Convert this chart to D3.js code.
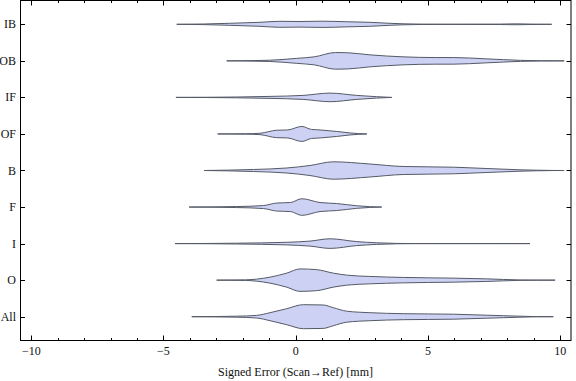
<!DOCTYPE html>
<html>
<head>
<meta charset="utf-8">
<script src="https://cdn.jsdelivr.net/npm/d3@7"></script>
<style>
  body { margin: 0; background: #fff; }
  svg text { font-family: "Liberation Serif", "DejaVu Serif", serif; font-size: 12px; fill: #111; }
</style>
</head>
<body>
<svg id="chart" width="576" height="381"></svg>
<script>
// Categories, bottom to top
const categories = ["All", "O", "I", "F", "B", "OF", "IF", "OB", "IB"];

// Estimated density profiles [signed error, density]
const densAll = [[-3.93,0],[-2.23,0.5],[-1.48,1.3],[-0.97,4],[-0.34,8],[0.29,12],[1.04,11.7],[1.42,9],[1.93,5.5],[2.8,4],[4.07,3],[5.96,2.5],[7.22,1.5],[7.85,1],[8.48,0.5],[9.1,0.1],[9.74,0]];
const densO   = [[-2.99,0],[-1.9,0.3],[-1.48,1],[-0.97,3],[-0.34,7],[0.16,11.2],[0.79,10.5],[1.42,7],[1.93,5],[2.8,3.7],[4.07,2.7],[5.96,2],[7.22,1.3],[7.85,0.7],[8.48,0.2],[9.1,0.05],[9.81,0]];
const densI   = [[-4.56,0],[-2.23,0.4],[-0.34,1.3],[0.54,2.5],[1.3,4.8],[2.3,2],[3.06,0.8],[3.8,0.2],[4.5,0.02],[8.86,0]];
const densF   = [[-4.03,0],[-2.23,0.5],[-1.22,1.5],[-0.72,4],[-0.2,4.5],[0.23,8.3],[0.92,4.5],[1.55,3.5],[2.3,1.3],[2.8,0.4],[3.25,0]];
const densB   = [[-3.46,0],[-1.6,1],[-0.34,2.5],[0.54,5],[1.42,8.7],[2.8,6.5],[4.06,4],[5.96,3.3],[7.2,2],[8.48,0.7],[9.1,0.3],[9.7,0.05],[10.15,0]];
const densOF  = [[-2.95,0],[-1.9,0.2],[-1.35,0.7],[-0.72,3.7],[-0.3,4],[0.23,7.5],[0.6,4.5],[0.92,4],[1.55,2.5],[2.05,1],[2.69,0]];
const densIF  = [[-4.53,0],[-2.23,0.4],[-0.97,1],[0.28,2],[1.3,4.3],[2.3,2],[3.06,0.7],[3.63,0]];
const densOB  = [[-2.61,0],[-1.0,0.6],[0.04,2.5],[0.7,4],[1.5,8.3],[1.95,8.1],[2.8,6],[4.06,4],[5.3,3.3],[5.96,3.3],[7.2,2],[7.86,1.2],[8.5,0.5],[9.3,0.1],[10.15,0]];
const densIB  = [[-4.5,0],[-3.5,0.3],[-2.5,1],[-1.35,2],[-0.6,3],[0.16,2.8],[1.03,3.1],[1.86,2.6],[2.8,2],[3.56,1],[4.06,0.5],[4.7,0.2],[5.8,0.1],[7.7,0.2],[8.3,0.45],[8.9,0.2],[9.68,0]];

const profiles = [densAll, densO, densI, densF, densB, densOF, densIF, densOB, densIB];

const xTicks = [-10, -5, 0, 5, 10];
const xMinor = d3.range(-10, 11, 1).filter(v => v % 5 !== 0);

const svg = d3.select("#chart");
const x = d3.scaleLinear().domain([-10.4, 10.41]).range([20.7, 571]);
const y = d3.scaleLinear().domain([0.335, 9.665]).range([341, 0]);
// density -> half width in category units
const w = d3.scaleLinear().domain([0, 10]).range([0, 10 / 36.5]);

// violins
const plot = svg.append("g");
profiles.forEach((prof, i) => {
  const c = i + 1;
  const area = d3.area()
    .x(d => x(d[0]))
    .y0(d => y(c - w(d[1])))
    .y1(d => y(c + w(d[1])))
    .curve(d3.curveMonotoneX);
  plot.append("path")
    .attr("d", area(prof))
    .attr("fill", "#cdd2f5")
    .attr("stroke", "#555a66")
    .attr("stroke-width", 1)
    .attr("stroke-linejoin", "round");
});

// frame
const L = 20.5, R = 571, T = 0.5, B = 340.5;
svg.append("rect").attr("x", L).attr("y", T).attr("width", R - L).attr("height", B - T)
  .attr("fill", "none").attr("stroke", "#000").attr("stroke-width", 1);

const ticks = svg.append("g").attr("stroke", "#000").attr("stroke-width", 1);
xTicks.forEach(v => {
  const px = Math.round(x(v)) + 0.5;
  ticks.append("line").attr("x1", px).attr("x2", px).attr("y1", B).attr("y2", B - 5);
  ticks.append("line").attr("x1", px).attr("x2", px).attr("y1", T).attr("y2", T + 5);
});
xMinor.forEach(v => {
  const px = Math.round(x(v)) + 0.5;
  ticks.append("line").attr("x1", px).attr("x2", px).attr("y1", B).attr("y2", B - 2.5);
  ticks.append("line").attr("x1", px).attr("x2", px).attr("y1", T).attr("y2", T + 2.5);
});
categories.forEach((c, i) => {
  const py = Math.round(y(i + 1)) + 0.5;
  ticks.append("line").attr("x1", L).attr("x2", L + 4.5).attr("y1", py).attr("y2", py);
  ticks.append("line").attr("x1", R).attr("x2", R - 4.5).attr("y1", py).attr("y2", py);
});

// labels
svg.append("g").selectAll("text").data(xTicks).join("text")
  .attr("x", d => x(d)).attr("y", 355)
  .attr("text-anchor", "middle")
  .text(d => d < 0 ? "\u2212" + Math.abs(d) : d);

svg.append("g").selectAll("text").data(categories).join("text")
  .attr("x", 16).attr("y", (d, i) => y(i + 1) + 4)
  .attr("text-anchor", "end")
  .text(d => d);

svg.append("text").attr("x", 295.5).attr("y", 376)
  .attr("text-anchor", "middle")
  .text("Signed Error (Scan\u2192Ref) [mm]");
</script>
</body>
</html>
